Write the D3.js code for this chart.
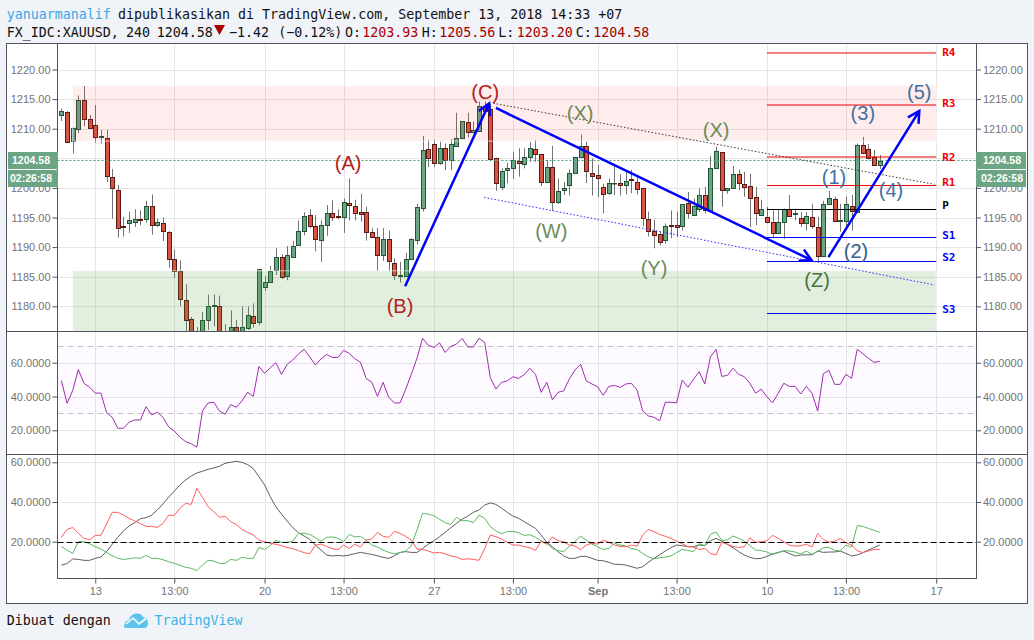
<!DOCTYPE html>
<html>
<head>
<meta charset="utf-8">
<script src="https://d3js.org/d3.v7.min.js"></script>
<style>
html, body { margin: 0; padding: 0; background: #f0f3f7; overflow: hidden; }
svg { display: block; }
.axis text { font-family: "Liberation Sans", Arial, sans-serif; font-size: 11px; fill: #737375; }
.axis line, .axis path { stroke: #50535e; }
.mono { font-family: "DejaVu Sans Mono", monospace; font-size: 13.3px; }
</style>
</head>
<body>
<div id="chart"></div>
<script>
// 4h bars
const barOpen = [
    1212.4,1212.9,1208,1210,1214.9,1211.7,1210.7,1208.5,1208.5,1201.8,
    1199.7,1193.5,1194,1194.3,1194.8,1194.7,1197,1193.8,1194,1192.5,
    1188,1185.9,1181.1,1177.8,1175.2,1175,1177.7,1180,1180.1,1175.3,
    1175.5,1176.5,1175,1176.4,1178.4,1177.3,1183.3,1184.1,1186.2,1188.4,
    1185,1188.4,1190.4,1192.8,1195.5,1193.5,1191.3,1193.8,1195.7,1195.2,
    1195.1,1197.4,1196.9,1195.9,1195.9,1192.6,1191.7,1188.6,1191.3,1187.3,
    1185.2,1185.2,1188,1191.1,1196.6,1206.5,1207.5,1204.2,1206.7,1204.7,
    1207.1,1208.5,1211.2,1209.4,1209.5,1213.8,1213.4,1205.1,1200.2,1202.9,
    1203.3,1204.5,1204.1,1205.3,1206.5,1205.7,1200.9,1203.5,1197.6,1199.5,
    1200.4,1202.5,1205.2,1207.1,1202.6,1202.1,1200.1,1199.1,1200.9,1200.9,
    1200.4,1201.5,1201,1199.9,1194.7,1192.8,1192.2,1191.3,1193.7,1193.7,
    1193.4,1197.4,1195.4,1196.5,1198.8,1196.2,1203.3,1206,1199.5,1200,
    1202.3,1200.7,1200.4,1198.4,1195.5,1195.1,1194.3,1192.5,1194.3,1196.5,
    1195.6,1194.9,1194.1,1195.1,1193.4,1188.5,1197.3,1198.1,1194.5,1194.4,
    1196.9,1196,1207.3,1206.6,1205.2,1203.93
];
const barHigh = [
    1213.4,1213,1210.2,1215.6,1217.2,1212.3,1214,1209.8,1209.8,1203.2,
    1200.5,1195.1,1196,1196.4,1196.2,1197.8,1198.9,1194.8,1195,1192.7,
    1189.6,1187.8,1183.7,1178.2,1176.5,1179,1182,1182,1181.8,1177,
    1179.3,1177.7,1180,1180,1180.5,1186.3,1185.1,1186.8,1189.8,1188.8,
    1190.2,1191,1194.5,1195.9,1196.4,1195.4,1194.5,1197.1,1197.9,1196.4,
    1198.2,1201.6,1198,1199,1196.8,1193.2,1193.2,1193.2,1192.8,1188.1,
    1187.5,1189,1191.5,1197.3,1208.8,1208.1,1208.1,1207.8,1207.5,1208.2,
    1212.7,1211.3,1212.7,1211.2,1214.6,1214.6,1214.2,1205.1,1203.3,1204.2,
    1206.1,1206.7,1206.7,1207.8,1208.1,1205.7,1204.7,1207.1,1201.6,1201,
    1203.1,1205.2,1209,1207.8,1205,1203.9,1200.7,1201.6,1203.9,1202.3,
    1202.8,1203,1201.9,1199.9,1196,1194.6,1192.6,1194,1196.2,1196,
    1197.2,1199.3,1198.2,1199.9,1200.2,1205.4,1207,1206,1199.9,1203.7,
    1203.1,1202.7,1202.4,1200.2,1198,1196.8,1196.2,1196.3,1196.5,1198.8,
    1196.5,1195.9,1195.9,1197.3,1195.1,1197.8,1199.5,1198.5,1197.3,1198.5,
    1198.8,1207.5,1208.6,1207.4,1206.4,1205.56
];
const barLow = [
    1211.3,1207.6,1205.8,1209.3,1210.4,1210,1207.6,1207.5,1201,1194.8,
    1191.6,1191.8,1192.4,1193.4,1193.7,1194.1,1192.1,1193.4,1191,1186.5,
    1184.8,1180,1175,1173,1174,1174.5,1176,1176.6,1174,1174.5,
    1174.5,1174,1174.5,1176,1176.4,1176.8,1182.6,1184.1,1185.3,1184.6,
    1184.4,1188.2,1190.4,1192,1193.2,1189.3,1187.5,1191.9,1194.4,1194.7,
    1192.4,1194.5,1194.5,1194.3,1191.1,1191.7,1186,1187.7,1185.9,1184.4,
    1184,1185,1187.8,1190.4,1196,1203.5,1203.5,1203.9,1203,1203,
    1207.1,1208.4,1208.5,1209.2,1209.5,1213,1204.9,1199.5,1199.6,1200.8,
    1201.5,1201.9,1203.3,1204.4,1204.4,1200.3,1200.9,1196.1,1197.3,1198.8,
    1198.7,1202.5,1205.2,1200.8,1198.7,1198.4,1195.7,1198.8,1198.8,1198.7,
    1198.9,1199.1,1198.9,1193.5,1191.8,1189.8,1190.3,1190.6,1191.5,1191.7,
    1192.8,1194.8,1195.4,1195.9,1195.7,1196.2,1203.3,1196.8,1199,1200,
    1199.6,1198.5,1193.4,1193.7,1195.5,1194,1191.7,1192.3,1191.4,1195.1,
    1194.5,1193.4,1192.8,1193.1,1187.5,1188.3,1197.3,1194.3,1192.6,1193.4,
    1192.8,1196,1206,1204.8,1203.8,1203.2
];
const barClose = [
    1213,1207.8,1210.2,1214.9,1211.7,1210.2,1208.7,1208.7,1202,1199.9,
    1193.3,1193.4,1194.5,1194.8,1194.7,1196.9,1193.8,1194.3,1192.6,1187.9,
    1185.9,1181.1,1177.8,1174,1175,1177.7,1180,1180.2,1175.5,1175.6,
    1176.5,1175,1176.5,1178.6,1177.3,1186.3,1184.1,1186,1188.4,1185,
    1188.6,1190.2,1192.8,1195.3,1193.6,1191.3,1193.8,1195.8,1195.1,1195.1,
    1197.6,1197,1195.8,1195.5,1192.5,1191.7,1188.6,1191.3,1187.5,1185.3,
    1185.3,1188,1191.3,1196.7,1206.4,1205,1204.3,1206.7,1204.7,1207.4,
    1208.5,1211.3,1209.5,1209.8,1213.8,1213,1204.9,1200.9,1202.9,1203.3,
    1204.7,1204.1,1205.3,1206.8,1205.7,1200.9,1203.5,1197.6,1199.5,1199.9,
    1202.5,1205.2,1207.1,1202.8,1202.1,1201.6,1198.9,1200.8,1200.9,1200.6,
    1201.1,1201.4,1199.9,1194.9,1192.6,1192.2,1190.8,1193.6,1193.6,1193.3,
    1197.2,1195.7,1196.9,1198.8,1196.2,1203.4,1206.2,1199.5,1199.9,1202.3,
    1200.7,1200.2,1198.3,1195.7,1196.5,1194.3,1192.5,1194.3,1196.5,1195.4,
    1195.7,1194,1195.3,1193.5,1188.5,1197.3,1198.3,1194.4,1194.6,1197.3,
    1196.1,1207.3,1206,1205.1,1203.9,1204.58
];

const rsiValues = [
    49.4,36,43.5,56,47.8,45.4,42,42,30.5,27.7,
    21.2,21.2,24.8,26.1,26.1,34,29.1,30.7,27.7,22,
    19.6,15.9,13.3,12,10,31.5,36.2,36.6,31.5,29.5,
    35.2,33.6,37.4,42.5,40.1,57.8,53.7,57,60,53.1,
    59,61.6,65.1,67.9,63.5,58.6,62.2,64.9,63.1,63.1,
    67.3,65.5,62.4,60.2,50.7,48.4,40.1,48.4,39.5,36.2,
    36.2,44.3,53.1,62.6,74.4,70.4,69,71.8,66.1,69.6,
    71,74.4,69.3,69.3,74.4,72,51.1,44.4,48.4,49.2,
    51.7,50.7,52.9,56.7,53.1,42.5,48.4,38,42.5,43.3,
    50.4,55.7,59,49.2,47.4,45.8,40.7,46,46.6,45.4,
    47.4,47.8,43.7,31.5,28.5,27.7,25.6,36.6,36.6,36.2,
    49.8,45.4,50.2,54.7,47.4,63.5,67.9,51.9,52.5,56.7,
    53.1,51.7,47.8,42,44.3,39.9,36.2,41.9,47.8,46,
    46,41.5,46,41.9,31.3,53.5,55.5,47.2,47.2,53.1,
    50.7,67.9,65.3,62.6,60.2,60.8
];

const adxValues = [
    8.2,9,11.3,11.1,10.6,10.6,11.6,12.3,15,18.7,
    22.2,25.4,27.9,29.6,31.6,32.1,33.4,36,39,42.4,
    45.5,48.6,51.1,53.1,54.6,55.5,56.5,57.1,58,59.5,
    60,60.5,60,58.8,56.8,52.8,48.6,42.7,37.6,33.9,
    30.4,27.1,24.5,22.9,21.2,18.3,15.8,13.3,12.8,13.1,
    12.8,13.3,14,14.6,14.1,13.6,12.9,12.1,11.6,12.9,
    14.6,15,14.6,14.6,16.6,18.7,20.5,22.5,24.7,27.1,
    29.2,31.3,32.9,34.8,36,38.5,39.5,38.8,36.8,34.8,
    32.9,31.8,30.1,28.4,26.7,23.4,19.7,17.5,15,12.8,
    11.6,11.6,12.6,12.6,11.6,10.6,10.4,9.6,8.6,8.6,
    8.2,7.4,6.6,7.4,9.6,11.6,13.4,15.3,17,18.3,
    18,17.5,17.5,18.3,18,20.5,21.7,20.3,18.7,17,
    15,13.3,12.1,11.4,11.6,12.6,13.8,14.6,15.3,14,
    12.8,13.3,13.4,13.4,15.3,14.6,14.8,14.8,15.3,14.1,
    12.8,13.3,14.5,15.8,17.1,18.3
];
const diMinusValues = [
    22.2,26.1,27.2,24.2,21.7,21,23.2,23.2,28.9,34.8,
    34.8,33.4,31.8,30.4,29.1,27.7,27.7,27.2,29.2,33.3,
    33.3,36.8,39.3,38.8,46.9,42.4,37.6,35.1,32.3,32.8,
    30.1,28.7,26.2,24.7,23.4,20.8,20,19.2,18.7,18,
    17.1,16.5,15.5,14.5,13.9,18.3,18.8,17.6,16.5,16,
    18.3,16.6,18.7,17.3,20.8,21.3,24.7,22.7,22.2,25.2,
    24.2,22.7,20.8,16.3,16.1,15.3,14.3,14.6,13.9,12.8,
    12.3,11.1,11.4,11.1,10.6,16.6,23.4,22.5,21.3,19.7,
    18.3,18.3,17.5,17,15.6,20.3,18.7,22.4,20.5,20,
    18.3,17.8,16,18.3,19.2,18.8,20.7,19.7,18.3,17.6,
    17.5,18.3,17.8,23.4,26.2,25,23.7,22.7,21.7,20.3,
    19,17.5,17.3,16.1,16.6,14.1,13.3,19.7,18.7,17.6,
    17.1,17.5,22,19.7,20,20.5,23.2,21.7,20,18.2,
    17.8,18,18.7,17.3,24.2,21.2,19.8,20.2,21.7,19.5,
    18.3,15.5,14.5,15.3,16.1,16
];
const diPlusValues = [
    17.6,15.8,14.1,20,20,19,17.5,16.3,14.6,12.9,
    11.6,11.1,11.4,11.9,11.6,13.1,11.6,11.6,10.9,9.9,
    9.1,8.1,7.1,6.6,5.5,8.2,10.6,10.3,9.1,9.1,
    11.1,10.6,12.1,11.6,11.6,17.1,16.1,18,20.7,19.7,
    19.7,20.3,24.2,24.2,23.7,22,20.2,22.2,22.4,21.7,
    20,23.7,22.4,22.7,20.8,18.3,17.3,15.8,14.6,13.9,
    14.5,15.3,18,25.9,34.3,33.8,33.1,31.3,29.6,28.7,
    32.3,30.6,30.6,29.6,33.4,31.8,27.6,25.4,24,25.2,
    25.2,24.5,23.2,23.5,22.2,20.5,19.2,16.6,15.5,15,
    17.6,20,22.9,20.8,18.8,17.5,16.1,16.6,19.2,18.3,
    17.8,16.6,16,14.1,12.4,11.4,11.9,12.3,12.8,14.5,
    16.1,15.6,15,19,18,23.7,24.9,20.7,20.8,22.9,
    21.7,20.3,18,15.8,15.5,14.8,13.6,14.5,15.5,15.3,
    14.8,13.8,15.3,13.6,15.1,17,17.1,15.6,15.3,18.3,
    17.3,28.1,27.7,26.7,25.7,24.7
];

// axis ticks
const timeTickBars = [6, 20, 36, 50, 66, 80, 95, 109, 125, 139, 155];
const timeTickLabels = ["13", "13:00", "20", "13:00", "27", "13:00", "Sep", "13:00", "10", "13:00", "17"];
const priceGrid = [1180, 1185, 1190, 1195, 1200, 1205, 1210, 1215, 1220];
// 1205.00 sits fully behind the price tag, so no label for it
const priceTicks = [1180, 1185, 1190, 1195, 1200, 1210, 1215, 1220];
const rsiTicks = [20, 40, 60];
const dmiTicks = [20, 40, 60];

// zones and pivots, in bar index / price
const sellZone = [2, 155, 1217.3, 1207.9];
const buyZone = [2, 155, 1186, 1170];
const pivotNames = ["R4", "R3", "R2", "R1", "P", "S1", "S2", "S3"];
const pivotPrices = [1222.79, 1214, 1205.22, 1200.4, 1196.35, 1191.62, 1187.57, 1178.78];
const pivotLabelPrices = [1222.9, 1214.3, 1205.27, 1200.95, 1197.06, 1192, 1188.28, 1179.5];
const pivotRange = [125, 155];

// drawn tools: [bar, price, bar, price]
const arrows = [
    [60.9, 1183.4, 75.8, 1214.3],
    [77, 1213.5, 132.9, 1187.8],
    [135.9, 1188.3, 152, 1213]
];
const upperTrend = [76.5, 1214.3, 154.7, 1200.6];
const lowerTrend = [74.9, 1198.4, 154.7, 1183.6];
const waveNames = ["(A)", "(B)", "(C)", "(X)", "(W)", "(Y)", "(X)", "(Z)", "(1)", "(2)", "(3)", "(4)", "(5)"];
const waveBars = [50.8, 60, 75.1, 91.9, 86.8, 105, 116, 133.9, 136.9, 140.8, 142, 147, 152];
const wavePrices = [1204.2, 1180, 1216.2, 1212.7, 1192.7, 1186.5, 1209.8, 1184.4, 1201.8, 1189.3, 1212.7, 1199.6, 1216.2];
const waveColors = ["#b5201c", "#b5201c", "#b5201c", "#6b8c58", "#6b8c58", "#6b8c58", "#6b8c58", "#47753a",
    "#3f709f", "#335f8c", "#3f709f", "#3f709f", "#3f709f"];

const lastPrice = 1204.58;
const countdown = "02:26:58";

const width = 1034, height = 640;
const left = 57.5, right = 976;
const mainTop = 43.5, mainBottom = 331.5, rsiBottom = 454.5, dmiBottom = 578.5, frameBottom = 603.5;

const svg = d3.select("#chart").append("svg")
    .attr("width", width)
    .attr("height", height);

// white chart area
svg.append("rect")
    .attr("x", 6.5).attr("y", mainTop)
    .attr("width", 1021).attr("height", frameBottom - mainTop)
    .attr("fill", "#fff").attr("stroke", "#50535e");

const x = d3.scaleLinear().domain([0, 162]).range([61.4, 975.7]);
const yPrice = d3.scaleLinear().domain([1220, 1180]).range([69.5, 306.3]);
const yRsi = d3.scaleLinear().domain([60, 20]).range([362.7, 430.3]);
const yDmi = d3.scaleLinear().domain([60, 20]).range([462.3, 541.7]);

const crisp = v => Math.round(v) + 0.5;

// gridlines
const grid = svg.append("g").attr("stroke", "#e6e6e6").attr("shape-rendering", "crispEdges");
grid.selectAll(".v").data(timeTickBars).enter().append("line")
    .attr("x1", d => crisp(x(d))).attr("x2", d => crisp(x(d)))
    .attr("y1", mainTop).attr("y2", dmiBottom);
[[priceGrid, yPrice], [rsiTicks, yRsi], [dmiTicks, yDmi]].forEach(([ticks, scale]) => {
    grid.selectAll(null).data(ticks).enter().append("line")
        .attr("x1", left).attr("x2", right)
        .attr("y1", d => crisp(scale(d))).attr("y2", d => crisp(scale(d)));
});

// main pane
svg.append("clipPath").attr("id", "mainClip").append("rect")
    .attr("x", left).attr("y", mainTop)
    .attr("width", right - left).attr("height", mainBottom - mainTop);
const main = svg.append("g").attr("clip-path", "url(#mainClip)");

const bars = d3.range(barClose.length);
main.selectAll(".wick").data(bars).enter().append("line")
    .attr("x1", i => Math.round(x(i)) + 0.5)
    .attr("x2", i => Math.round(x(i)) + 0.5)
    .attr("y1", i => yPrice(barHigh[i]))
    .attr("y2", i => yPrice(barLow[i]))
    .attr("stroke", "#737375");
main.selectAll(".body").data(bars).enter().append("rect")
    .attr("x", i => Math.round(x(i)) - 1.5)
    .attr("width", 4)
    .attr("y", i => Math.round(yPrice(Math.max(barOpen[i], barClose[i]))) + 0.5)
    .attr("height", i => Math.max(0.5, Math.round(Math.abs(yPrice(barOpen[i]) - yPrice(barClose[i])))))
    .attr("fill", i => barClose[i] >= barOpen[i] ? "#6ba583" : "#d75442")
    .attr("stroke", i => barClose[i] >= barOpen[i] ? "#225437" : "#5b1a13");

// last price line
main.append("line")
    .attr("x1", left).attr("x2", right)
    .attr("y1", Math.floor(yPrice(lastPrice)) + 0.5).attr("y2", Math.floor(yPrice(lastPrice)) + 0.5)
    .attr("stroke", "#4f9d76").attr("stroke-dasharray", "2,2");

// supply / demand zones sit on top of the candles
[[sellZone, "rgba(255,40,60,0.09)"], [buyZone, "rgba(76,150,50,0.16)"]].forEach(([z, color]) => {
    main.append("rect")
        .attr("x", x(z[0])).attr("width", x(z[1]) - x(z[0]))
        .attr("y", yPrice(z[2])).attr("height", yPrice(z[3]) - yPrice(z[2]))
        .attr("fill", color)
        .attr("stroke", "rgba(255,255,255,0.6)");
});

// pivots
const pivotColor = n => n[0] === "R" ? "#ee0000" : n[0] === "P" ? "#000" : "#0000ff";
main.selectAll(".pivot").data(pivotNames).enter().append("line")
    .attr("x1", x(pivotRange[0])).attr("x2", x(pivotRange[1]))
    .attr("y1", (d, i) => yPrice(pivotPrices[i])).attr("y2", (d, i) => yPrice(pivotPrices[i]))
    .attr("stroke", pivotColor);
main.selectAll(".pivotLabel").data(pivotNames).enter().append("text")
    .attr("x", x(pivotRange[1]) + 6)
    .attr("y", (d, i) => yPrice(pivotLabelPrices[i]))
    .attr("dy", ".35em")
    .attr("font-family", "DejaVu Sans Mono, monospace")
    .attr("font-size", 11).attr("font-weight", "bold")
    .attr("fill", pivotColor)
    .text(d => d);

// trend lines
[[upperTrend, "#333"], [lowerTrend, "#2a2aff"]].forEach(([t, color]) => {
    main.append("line")
        .attr("x1", x(t[0])).attr("y1", yPrice(t[1]))
        .attr("x2", x(t[2])).attr("y2", yPrice(t[3]))
        .attr("stroke", color).attr("stroke-dasharray", "1.5,2");
});

// arrows with an open head
arrows.forEach(a => {
    const x1 = x(a[0]), y1 = yPrice(a[1]), x2 = x(a[2]), y2 = yPrice(a[3]);
    const ang = Math.atan2(y2 - y1, x2 - x1);
    const head = 13, spread = 0.5;
    const p = d3.path();
    p.moveTo(x1, y1);
    p.lineTo(x2, y2);
    p.moveTo(x2 - head * Math.cos(ang - spread), y2 - head * Math.sin(ang - spread));
    p.lineTo(x2, y2);
    p.lineTo(x2 - head * Math.cos(ang + spread), y2 - head * Math.sin(ang + spread));
    main.append("path")
        .attr("d", p.toString())
        .attr("fill", "none")
        .attr("stroke", "#0000ff")
        .attr("stroke-width", 2.5);
});

// wave labels
main.selectAll(".wave").data(waveNames).enter().append("text")
    .attr("x", (d, i) => x(waveBars[i]))
    .attr("y", (d, i) => yPrice(wavePrices[i]))
    .attr("dy", ".35em")
    .attr("text-anchor", "middle")
    .attr("font-family", "Liberation Sans, Arial, sans-serif")
    .attr("font-size", 20)
    .attr("fill", (d, i) => waveColors[i])
    .text(d => d);

// RSI pane
svg.append("rect")
    .attr("x", left).attr("width", right - left)
    .attr("y", yRsi(70)).attr("height", yRsi(30) - yRsi(70))
    .attr("fill", "rgba(153,21,255,0.015)");
[70, 30].forEach(v => {
    svg.append("line")
        .attr("x1", left).attr("x2", right)
        .attr("y1", crisp(yRsi(v))).attr("y2", crisp(yRsi(v)))
        .attr("stroke", "#c4c4c4").attr("stroke-dasharray", "6,4");
});
const rsiLine = d3.line().x((d, i) => x(i)).y(d => yRsi(d));
svg.append("path").attr("d", rsiLine(rsiValues))
    .attr("fill", "none").attr("stroke", "#a02cb2");

// DMI pane
const dmiLine = d3.line().x((d, i) => x(i)).y(d => yDmi(d));
[[adxValues, "#5f5f5f"], [diPlusValues, "#5cb860"], [diMinusValues, "#ff5c5c"]].forEach(([vals, color]) => {
    svg.append("path").attr("d", dmiLine(vals))
        .attr("fill", "none").attr("stroke", color);
});
svg.append("line")
    .attr("x1", left).attr("x2", right)
    .attr("y1", crisp(yDmi(20))).attr("y2", crisp(yDmi(20)))
    .attr("stroke", "#000").attr("stroke-dasharray", "6,3");

// axes
const fmtPrice = d3.format(".2f"), fmtOsc = d3.format(".4f");
const addAxis = (axis, ticks, fmt, xPos) => {
    svg.append("g").attr("class", "axis")
        .attr("transform", `translate(${xPos},0)`)
        .call(axis.tickValues(ticks).tickFormat(fmt).tickSize(5).tickPadding(2));
};
[[d3.axisLeft, left], [d3.axisRight, right]].forEach(([make, xPos]) => {
    addAxis(make(yPrice), priceTicks, fmtPrice, xPos);
    addAxis(make(yRsi), rsiTicks, fmtOsc, xPos);
    addAxis(make(yDmi), dmiTicks, fmtOsc, xPos);
});
svg.selectAll(".axis .domain").remove();

const xAxis = d3.axisBottom(x)
    .tickValues(timeTickBars)
    .tickFormat((d, i) => timeTickLabels[i])
    .tickSize(5).tickPadding(4);
svg.append("g").attr("class", "axis")
    .attr("transform", `translate(0,${dmiBottom})`)
    .call(xAxis)
    .call(g => g.select(".domain").remove())
    .selectAll("text")
    .attr("font-weight", d => d === 95 ? "bold" : null);

// pane borders
const border = svg.append("g").attr("stroke", "#50535e").attr("shape-rendering", "crispEdges");
border.append("line").attr("x1", left).attr("x2", left).attr("y1", mainTop).attr("y2", dmiBottom);
border.append("line").attr("x1", right).attr("x2", right).attr("y1", mainTop).attr("y2", dmiBottom);
[mainBottom, rsiBottom].forEach(v => {
    border.append("line").attr("x1", 6.5).attr("x2", 1027.5).attr("y1", v).attr("y2", v);
});
border.append("line").attr("x1", left).attr("x2", right).attr("y1", dmiBottom).attr("y2", dmiBottom);

// price and countdown tags on both scales
[[8, 23], [976, 26]].forEach(([tagX, mid]) => {
    [[lastPrice.toFixed(2), 152, 17], [countdown, 170, 17]].forEach(([label, tagY, tagH]) => {
        svg.append("rect")
            .attr("x", tagX).attr("y", tagY)
            .attr("width", 50).attr("height", tagH)
            .attr("fill", "#6ba583");
        svg.append("text")
            .attr("x", tagX + mid).attr("y", tagY + tagH / 2)
            .attr("dy", ".36em")
            .attr("text-anchor", "middle")
            .attr("font-family", "Liberation Sans, Arial, sans-serif")
            .attr("font-size", 10.5).attr("font-weight", "bold")
            .attr("fill", "#fff")
            .text(label);
    });
});

// header
const header = [
    ["yanuarmanalif", 6.7, 18.5, "#3ba6e8"],
    ["dipublikasikan di TradingView.com, September 13, 2018 14:33 +07", 118, 18.5, "#111"],
    ["FX_IDC:XAUUSD,", 6.7, 36.5, "#111"],
    ["240", 126, 36.5, "#111"],
    ["1204.58", 156.7, 36.5, "#111"],
    ["\u22121.42", 229, 36.5, "#111"],
    ["(\u22120.12%)", 278.3, 36.5, "#111"],
    ["O:", 345, 36.5, "#111"],
    ["1203.93", 362.3, 36.5, "#a80000"],
    ["H:", 421.7, 36.5, "#111"],
    ["1205.56", 439.3, 36.5, "#a80000"],
    ["L:", 498.3, 36.5, "#111"],
    ["1203.20", 516.7, 36.5, "#a80000"],
    ["C:", 575.7, 36.5, "#111"],
    ["1204.58", 593.3, 36.5, "#a80000"],
    ["Dibuat dengan", 6.7, 625, "#111"],
    ["TradingView", 154.5, 625, "#3bb4e6"]
];
svg.selectAll(".head").data(header).enter().append("text")
    .attr("class", "mono")
    .attr("x", d => d[1]).attr("y", d => d[2])
    .attr("fill", d => d[3])
    .text(d => d[0]);

// down triangle
svg.append("path").attr("d", "M214,25H225L219.5,35Z").attr("fill", "#a80000");

// TradingView logo
svg.append("path")
    .attr("d", "M124,627 Q124,621 129,620 Q130,614 137,613.5 Q141,613 143,617 Q148,618 148,623 Q148,628 144,628 H127 Q124,628 124,627Z")
    .attr("fill", "#5cc3ec");
svg.append("path")
    .attr("d", "M126,624 L133,618 L139,624 L146,618.5")
    .attr("fill", "none").attr("stroke", "#fff").attr("stroke-width", 1.6);
</script>
</body>
</html>
